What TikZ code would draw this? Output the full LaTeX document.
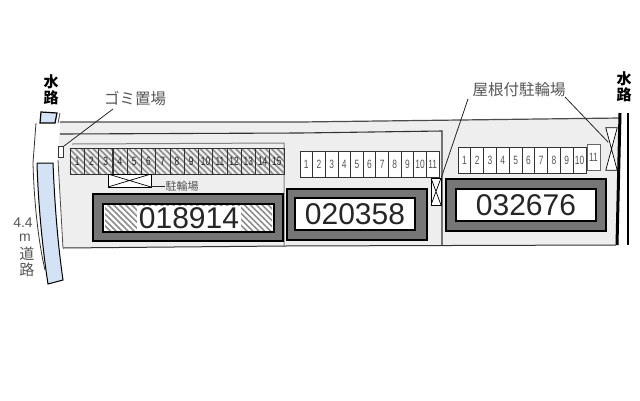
\documentclass[tikz,border=0pt]{standalone}
\usepackage{fontspec}
\setmainfont{Liberation Sans}
\newfontfamily\cjkfont{Noto Sans CJK JP}
\newfontfamily\stallfont[FakeStretch=0.7]{Liberation Sans}
\usetikzlibrary{patterns.meta}
\definecolor{sitegray}{HTML}{EEEEEE}
\definecolor{wallgray}{HTML}{767676}
\definecolor{labelgray}{HTML}{555555}
\definecolor{waterblue}{HTML}{D3E2F4}
\tikzset{
	stall/.style={draw=black!80,line width=.7pt,fill=white,minimum height=26,inner sep=0pt,font=\fontsize{12}{12}\stallfont,text=labelgray},
	hatchstall/.style={stall,minimum width=14.27,pattern={Lines[angle=-45,distance=4.2pt,line width=1.6pt]},pattern color=black!45,text=black!85},
	wall/.style={draw=black,line width=1.4pt,fill=wallgray},
	room/.style={draw=black,line width=2.2pt,fill=white,font=\fontsize{30}{30}\selectfont,text=black!85,inner sep=0pt},
	crossbox/.style={draw=black,line width=.7pt,fill=white,inner sep=0pt,path picture={\draw[line width=.7pt] (path picture bounding box.south west)--(path picture bounding box.north east) (path picture bounding box.north west)--(path picture bounding box.south east);}},
	caption/.style={font=\fontsize{15.5}{15.5}\cjkfont,text=labelgray,inner sep=0pt},
	water/.style={font=\fontsize{15}{16}\cjkfont\bfseries,align=center,inner sep=0pt}
}
\begin{document}
\begin{tikzpicture}[x=1pt,y=-1pt]
\useasboundingbox (0,0) rectangle (640,400);
% site
\fill[sitegray] (60,122)--(300,122)--(620,118)--(616,245)--(284,246)--(63,248)--(58,160)--cycle;
\draw[black!70,line width=1.2pt] (60,122)--(300,122)--(620,118);
\draw[black!80,line width=1.1pt] (60,134)--(300,133)--(442,131)--(442,245);
\draw[black!50,line width=1pt] (72,144)--(284,143)--(284,246);
\draw[black!80,line width=1pt] (63,248)--(284,246)--(616,245);
\draw[black!70,line width=.8pt] (58,160)--(63,248);
% water and road
\fill[waterblue,draw=black,line width=1.2pt] (41,112)--(57,113)--(55,123)--(40,123)--cycle;
\draw[black!70,line width=.8pt] (60,113)--(58,123);
\draw[black!80,line width=.8pt] (36,123)--(33,163) .. controls (34,200) and (38,240) .. (45,270);
\draw[black,line width=1pt,fill=waterblue] (37,163)--(53,163) .. controls (55,210) and (58,245) .. (63,280)--(48,284) .. controls (42,245) and (38,200) .. (37,163);
\draw[black,line width=3pt] (620,113)--(617,245);
\draw[black,line width=2pt] (628,113)--(628,245);
\node[water] (waterL) at (51,90) {水\\路};
\node[water] (waterR) at (624,87) {水\\路};
\node[font=\fontsize{14}{14}\selectfont,text=labelgray,inner sep=0pt] (width) at (23,223) {4.4};
\node[font=\fontsize{14}{14}\selectfont,text=labelgray,inner sep=0pt] (unit) at (25,238) {m};
\node[caption,font=\fontsize{15}{15}\cjkfont] (roadA) at (27,254) {道};
\node[caption,font=\fontsize{15}{15}\cjkfont] (roadB) at (27,270) {路};
% stalls 018914
\node[hatchstall] (a1) at (77.1,161) {1};
\node[hatchstall] (a2) at (91.4,161) {2};
\node[hatchstall] (a3) at (105.7,161) {3};
\node[hatchstall] (a4) at (120,161) {4};
\node[hatchstall] (a5) at (134.2,161) {5};
\node[hatchstall] (a6) at (148.5,161) {6};
\node[hatchstall] (a7) at (162.8,161) {7};
\node[hatchstall] (a8) at (177,161) {8};
\node[hatchstall] (a9) at (191.3,161) {9};
\node[hatchstall] (a10) at (205.6,161) {10};
\node[hatchstall] (a11) at (219.9,161) {11};
\node[hatchstall] (a12) at (234.1,161) {12};
\node[hatchstall] (a13) at (248.4,161) {13};
\node[hatchstall] (a14) at (262.7,161) {14};
\node[hatchstall] (a15) at (276.9,161) {15};
% stalls 020358
\node[stall,minimum width=12.64] (b1) at (306.3,164) {1};
\node[stall,minimum width=12.64] (b2) at (319,164) {2};
\node[stall,minimum width=12.64] (b3) at (331.6,164) {3};
\node[stall,minimum width=12.64] (b4) at (344.2,164) {4};
\node[stall,minimum width=12.64] (b5) at (356.9,164) {5};
\node[stall,minimum width=12.64] (b6) at (369.5,164) {6};
\node[stall,minimum width=12.64] (b7) at (382.1,164) {7};
\node[stall,minimum width=12.64] (b8) at (394.8,164) {8};
\node[stall,minimum width=12.64] (b9) at (407.4,164) {9};
\node[stall,minimum width=12.64] (b10) at (420.1,164) {10};
\node[stall,minimum width=12.64] (b11) at (432.7,164) {11};
% stalls 032676
\node[stall,minimum width=12.8] (c1) at (464.4,160) {1};
\node[stall,minimum width=12.8] (c2) at (477.2,160) {2};
\node[stall,minimum width=12.8] (c3) at (490,160) {3};
\node[stall,minimum width=12.8] (c4) at (502.8,160) {4};
\node[stall,minimum width=12.8] (c5) at (515.6,160) {5};
\node[stall,minimum width=12.8] (c6) at (528.4,160) {6};
\node[stall,minimum width=12.8] (c7) at (541.2,160) {7};
\node[stall,minimum width=12.8] (c8) at (554,160) {8};
\node[stall,minimum width=12.8] (c9) at (566.8,160) {9};
\node[stall,minimum width=12.8] (c10) at (579.6,160) {10};
\node[stall,draw=black!60,minimum width=13] (c11) at (593.5,157) {11};
% buildings
\node[wall,minimum width=190,minimum height=47] (wall1) at (188,217.5) {};
\node[wall,minimum width=140,minimum height=51] (wall2) at (357,214.5) {};
\node[wall,minimum width=160,minimum height=52] (wall3) at (526,205) {};
\node[room,minimum width=171,minimum height=28] (room1) at (188.5,218) {};
\fill[pattern={Lines[angle=-45,distance=4.2pt,line width=1.6pt]},pattern color=black!45] (105,205.5) rectangle (272,230.5);
\node[fill=white,minimum width=104,minimum height=25,inner sep=0pt,font=\fontsize{30}{30}\selectfont,text=black!85] (num1) at (189,218) {018914};
\node[room,minimum width=120,minimum height=32] (room2) at (355,214) {020358};
\node[room,minimum width=140,minimum height=32] (room3) at (526,205) {032676};
% bikes and trash
\node[crossbox,minimum width=43,minimum height=13] (bike1) at (129.5,180.5) {};
\node[crossbox,minimum width=10,minimum height=27] (bike2) at (436,191.5) {};
\node[minimum width=11,minimum height=42,inner sep=0pt] (bike3) at (611.5,149) {};
\draw[black,line width=.7pt,fill=white] (bike3.north west)--(bike3.north east)--(bike3.south west)--(bike3.south east)--cycle;
\node[draw=black!80,line width=.7pt,fill=white,minimum width=5,minimum height=11,inner sep=0pt] (trash) at (61,152) {};
% labels
\node[caption] (trashlabel) at (135,99) {ゴミ置場};
\node[caption] (roof) at (519,90) {屋根付駐輪場};
\node[caption,font=\fontsize{11}{11}\cjkfont] (bikelabel) at (182,186) {駐輪場};
\coordinate (trashend) at (113,109);
\coordinate (roofendA) at (468,99);
\coordinate (roofendB) at (565,97);
\coordinate (bike3end) at (608,142);
\draw[black!85,line width=.8pt] (trashend) -- (trash.north east);
\draw[black!85,line width=.8pt] (roofendA) -- (bike2.north east);
\draw[black!85,line width=.8pt] (roofendB) -- (bike3end);
\draw[black!85,line width=.8pt] (bike1.east |- bikelabel) -- (bikelabel.west);
\end{tikzpicture}
\end{document}
